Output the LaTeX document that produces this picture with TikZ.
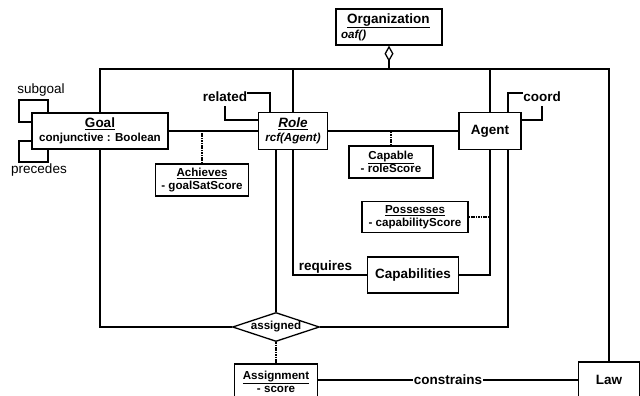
\documentclass[tikz,border=0pt]{standalone}
\usepackage{fontspec}
\setmainfont{Liberation Sans}
\usetikzlibrary{shapes.geometric,arrows.meta}
\newcommand{\mybig}{\fontsize{13.5}{15}\selectfont}
\begin{document}
\begin{tikzpicture}[x=1pt,y=-1pt,
  cls/.style={draw, line width=1.3pt, fill=white, inner sep=0pt, align=center, font=\bfseries\fontsize{11.6}{13}\selectfont},
  conn/.style={line width=1.3pt},
  assoc/.style={line width=2pt, dash pattern=on 1.6pt off 0.8pt},
  lbl/.style={inner sep=0pt, font=\bfseries\mybig},
  plain/.style={inner sep=0pt, font=\mybig}]
\useasboundingbox (0,0) rectangle (640,396);

% class boxes
\node[cls, minimum width=106pt, minimum height=36pt, text width=96pt, align=left] (org) at (389,27) {\hspace*{6pt}{\mybig\underline{Organization}}\\[1pt]\textit{oaf()}};
\node[cls, minimum width=136pt, minimum height=36pt] (goal) at (100,131) {{\mybig\underline{Goal}}\\[1pt]conjunctive : Boolean};
\node[cls, minimum width=69pt, minimum height=37pt] (role) at (293,131) {{\mybig\underline{\textit{Role}}}\\[1pt]\textit{rcf(Agent)}};
\node[cls, font=\bfseries\mybig, minimum width=62pt, minimum height=37pt] (agent) at (490,131) {Agent};
\node[cls, minimum width=93pt, minimum height=32pt] (achieves) at (202,180) {\underline{Achieves}\\- goalSatScore};
\node[cls, minimum width=84pt, minimum height=32pt] (capable) at (391,162) {\underline{Capable}\\- roleScore};
\node[cls, minimum width=106pt, minimum height=31pt] (possesses) at (415,217) {\underline{Possesses}\\- capabilityScore};
\node[cls, font=\bfseries\mybig, minimum width=91pt, minimum height=36pt] (capabilities) at (413,275) {Capabilities};
\node[cls, shape=diamond, aspect=3, minimum width=87pt, minimum height=29pt] (assigned) at (276,327) {assigned};
\node[cls, minimum width=83pt, minimum height=36pt] (assignment) at (276,382) {\underline{Assignment}\\- score};
\node[cls, font=\bfseries\mybig, minimum width=61pt, minimum height=36pt] (law) at (609,380) {Law};

% organization bus
\coordinate (bus) at (389,69);
\draw[conn] (goal.north) |- (bus) -| (law.north);
\draw[conn] (role.north) -- (role.north |- bus);
\draw[conn] (agent.north) -- (agent.north |- bus);
\draw[conn, -{Diamond[open, length=16pt, width=9pt]}] (bus) -- (org.south);

% associations
\draw[conn] (goal.east) -- (goal.east -| role.west);
\draw[conn] (role.east) -- (agent.west);
\draw[assoc] (achieves.north) -- (achieves.north |- goal.east);
\draw[assoc] (capable.north) -- (capable.north |- role.east);
\draw[conn] (goal.south) |- (assigned.west);
\draw[conn] (assigned.north) -- (assigned.north |- role.south);
\draw[conn] (role.south) |- (capabilities.west) node[lbl, pos=0.72, above=1pt] (req) {requires};
\draw[conn] (agent.south) |- (capabilities.east);
\draw[assoc] (possesses.east) -- (possesses.east -| agent.south);
\draw[conn] ([xshift=18pt]agent.south) |- (assigned.east);
\draw[assoc] (assigned.south) -- (assigned.south |- assignment.north);
\draw[conn] (law.west -| assignment.east) -- (law.west) node[lbl, midway, fill=white, inner xsep=1pt] (con) {constrains};

% self loops
\node[plain] (sgl) at (41,90) {subgoal};
\draw[conn] ([yshift=9pt]goal.west) -| (19,100) -| ([xshift=-52pt]goal.north);
\node[plain] (prl) at (39,170) {precedes};
\draw[conn] ([yshift=-10pt]goal.west) -| (19,162) -| ([xshift=-52pt]goal.south);

\node[lbl] (rel) at (225,97) {related};
\draw[conn] ([yshift=11pt]role.west) -| ([yshift=-4pt]rel.south);
\draw[conn] ([yshift=4pt]rel.east) -| ([xshift=-23pt]role.north);

\node[lbl] (crd) at (542,97) {coord};
\draw[conn] ([xshift=18pt]agent.north) |- ([yshift=4pt]crd.west);
\draw[conn] ([yshift=-4pt]crd.south) |- ([yshift=11pt]agent.east);
\end{tikzpicture}
\end{document}
